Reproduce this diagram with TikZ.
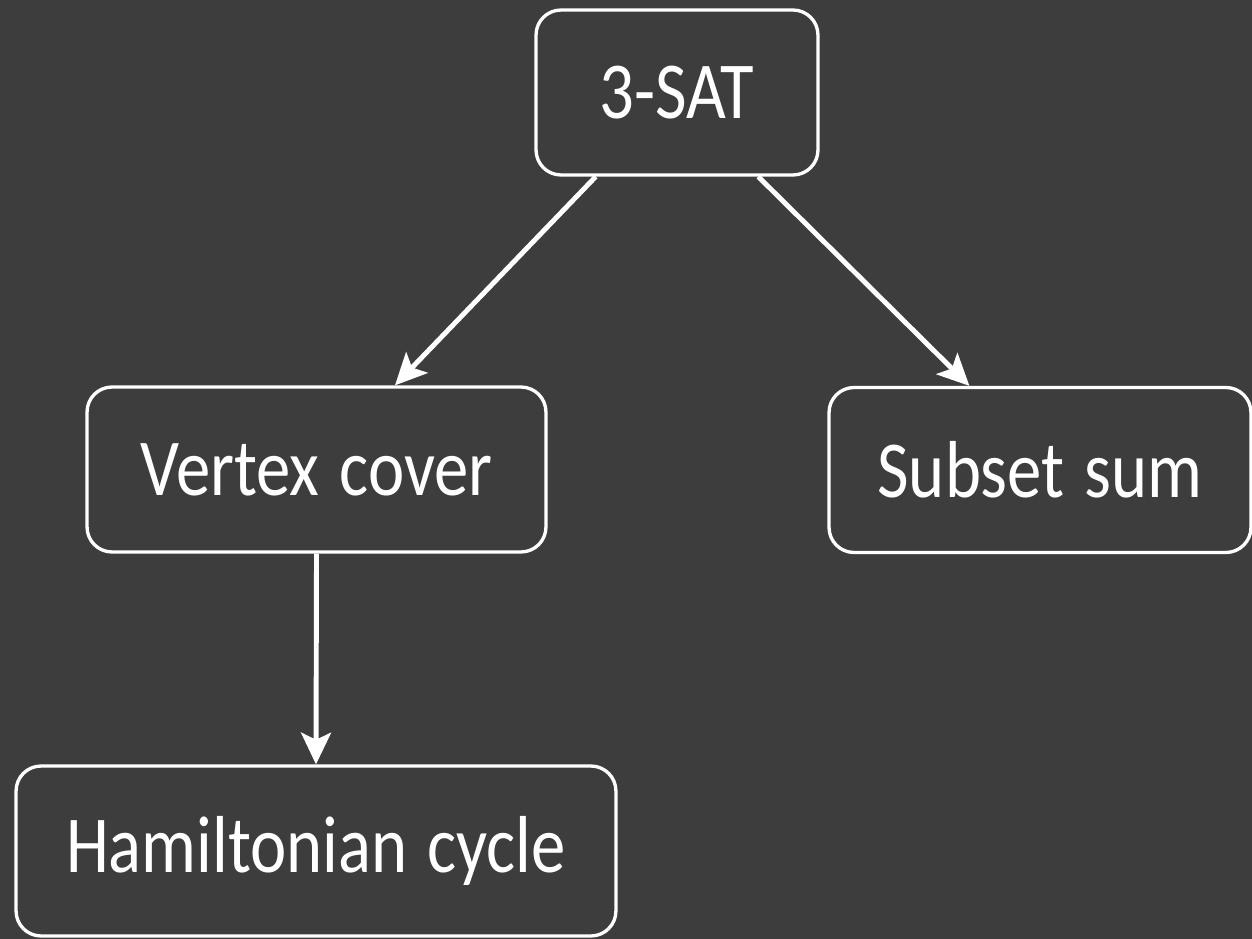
\documentclass[tikz,border=0pt]{standalone}
\usepackage{fontspec}
\setmainfont[FakeStretch=0.85,WordSpace=1.3]{Carlito}
\usepackage{xcolor}
\usetikzlibrary{arrows.meta,positioning}
\definecolor{board}{HTML}{3D3D3D}
\tikzset{probbox/.style={draw=white,line width=1.9pt,rounded corners=0.5cm,text=white,font=\fontsize{46}{50}\selectfont,inner sep=0},
  reduce/.style={-{Stealth[length=18pt,width=17pt,inset=4pt]},white,line width=2.8pt}}

\begin{document}
\begin{tikzpicture}[>=Stealth,x=0.02cm,y=-0.02cm]
\fill[board] (0,0) rectangle (1252,939);
\useasboundingbox (0,0) rectangle (1252,939);
\node[probbox,minimum width=5.64cm,minimum height=3.3cm] (sat) at (677,92.5) {3-SAT};
\node[probbox,minimum width=9.18cm,minimum height=3.3cm] (vc) at (316.5,469.5) {Vertex cover};
\node[probbox,minimum width=8.44cm,minimum height=3.3cm] (ss) at (1040,470) {Subset sum};
\node[probbox,minimum width=12cm,minimum height=3.4cm] (hc) at (316,851) {Hamiltonian cycle};
\draw[reduce] (sat.-134)--(vc.47);
\draw[reduce] (sat.-46)--(ss.130);
\draw[reduce] (vc.south)--(hc.north);
\end{tikzpicture}
\end{document}
